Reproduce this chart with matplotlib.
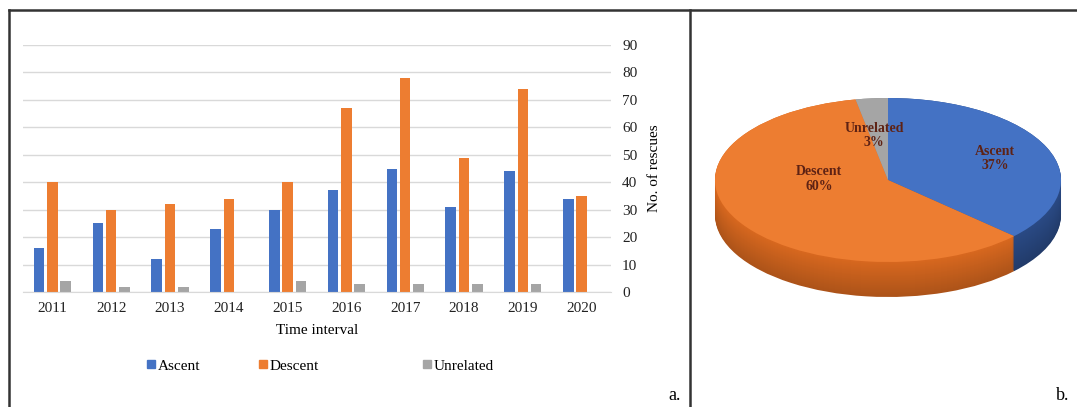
import matplotlib

matplotlib.use("Agg")
import matplotlib.pyplot as plt
import numpy as np
from matplotlib.lines import Line2D
from matplotlib.patches import Patch

# bar chart data (panel a)
years = ["2011", "2012", "2013", "2014", "2015", "2016", "2017", "2018", "2019", "2020"]
ascent = [16, 25, 12, 23, 30, 37, 45, 31, 44, 34]
descent = [40, 30, 32, 34, 40, 67, 78, 49, 74, 35]
unrelated = [4, 2, 2, 0, 4, 3, 3, 3, 3, 0]
yticks = [0, 10, 20, 30, 40, 50, 60, 70, 80, 90]

# pie data (panel b)
pie_labels = ["Ascent", "Descent", "Unrelated"]
pie_share = [37, 60, 3]

BLUE, ORANGE, GRAY = "#4472c4", "#ed7d31", "#a5a5a5"
SIDE = ["#2a4a85", "#d8681f", "#8a8a8a"]
W, H = 1077, 407

plt.rcParams["font.family"] = ["Liberation Serif", "DejaVu Serif"]


def box(x0, y0, x1, y1):
    # pixel box (top-left origin) -> figure fraction rect
    return [x0 / W, (H - y1) / H, (x1 - x0) / W, (y1 - y0) / H]


def fx(x):
    return x / W


def fy(y):
    return (H - y) / H


fig = plt.figure(figsize=(W / 100, H / 100), dpi=100)

# ---- panel a: grouped bars ----
ax = fig.add_axes(box(23, 45, 611, 292))
x = np.arange(len(years))
bw, off = 0.18, 0.225
ax.bar(x - off, ascent, bw, color=BLUE, label="Ascent")
ax.bar(x, descent, bw, color=ORANGE, label="Descent")
ax.bar(x + off, unrelated, bw, color=GRAY, label="Unrelated")
ax.set_xlim(-0.5, len(years) - 0.5)
ax.set_ylim(0, 90)
ax.set_xticks(x, years)
ax.set_yticks(yticks)
ax.yaxis.tick_right()
ax.yaxis.set_label_position("right")
ax.tick_params(length=0, labelsize=11, colors="#222222")
ax.tick_params(axis="x", pad=7)
ax.tick_params(axis="y", pad=8)
ax.grid(axis="y", color="#d9d9d9", linewidth=1)
ax.set_axisbelow(True)
for side in ["top", "left", "right"]:
    ax.spines[side].set_visible(False)
ax.spines["bottom"].set_color("#d9d9d9")
ax.set_xlabel("Time interval", fontsize=11, labelpad=7)
ax.set_ylabel("No. of rescues", fontsize=11, labelpad=8)

legend_x = [147, 259, 423]
for lx, lab, col in zip(legend_x, ["Ascent", "Descent", "Unrelated"], [BLUE, ORANGE, GRAY]):
    fig.legend(handles=[Patch(color=col, label=lab)], loc="center left",
               bbox_to_anchor=(fx(lx), fy(366)), frameon=False, fontsize=11,
               handlelength=0.5, handleheight=0.5, handletextpad=0.2, borderpad=0,
               borderaxespad=0)

# ---- panel b: 3D-looking pie ----
pax = fig.add_axes(box(715, 98, 1061, 297))
depth = 35 / 82
layers = 36
for i in range(layers):
    t = i / (layers - 1)
    shade = 0.8 + 0.2 * t
    cols = [tuple(c * shade for c in matplotlib.colors.to_rgb(s)) for s in SIDE]
    pax.pie(pie_share, colors=cols, startangle=90, counterclock=False,
            center=(0, -depth * (1 - t)), radius=1, wedgeprops=dict(linewidth=0))
pax.pie(pie_share, colors=[BLUE, ORANGE, GRAY], startangle=90, counterclock=False,
        center=(0, 0), radius=1, wedgeprops=dict(linewidth=0))
pax.set_aspect("auto")
pax.set_xlim(-1, 1)
pax.set_ylim(-1 - depth, 1)
pax.axis("off")

lab_style = dict(ha="center", va="center", fontsize=10, fontweight="bold",
                 color="#5e2214", linespacing=1.15)
pax.text(0.62, 0.26, "Ascent\n37%", **lab_style)
pax.text(-0.40, 0.01, "Descent\n60%", **lab_style)
pax.text(-0.08, 0.54, "Unrelated\n3%", **lab_style)

# ---- frame lines and panel tags ----
frame = dict(color="#333333", linewidth=1.8)
fig.add_artist(Line2D([fx(9), fx(1077)], [fy(10), fy(10)], **frame))
fig.add_artist(Line2D([fx(9), fx(9)], [fy(10), fy(407)], **frame))
fig.add_artist(Line2D([fx(690), fx(690)], [fy(10), fy(407)], **frame))
fig.text(fx(681), fy(396), "a.", ha="right", va="center", fontsize=13)
fig.text(fx(1069), fy(396), "b.", ha="right", va="center", fontsize=13)

fig.savefig("out.png", dpi=100)
